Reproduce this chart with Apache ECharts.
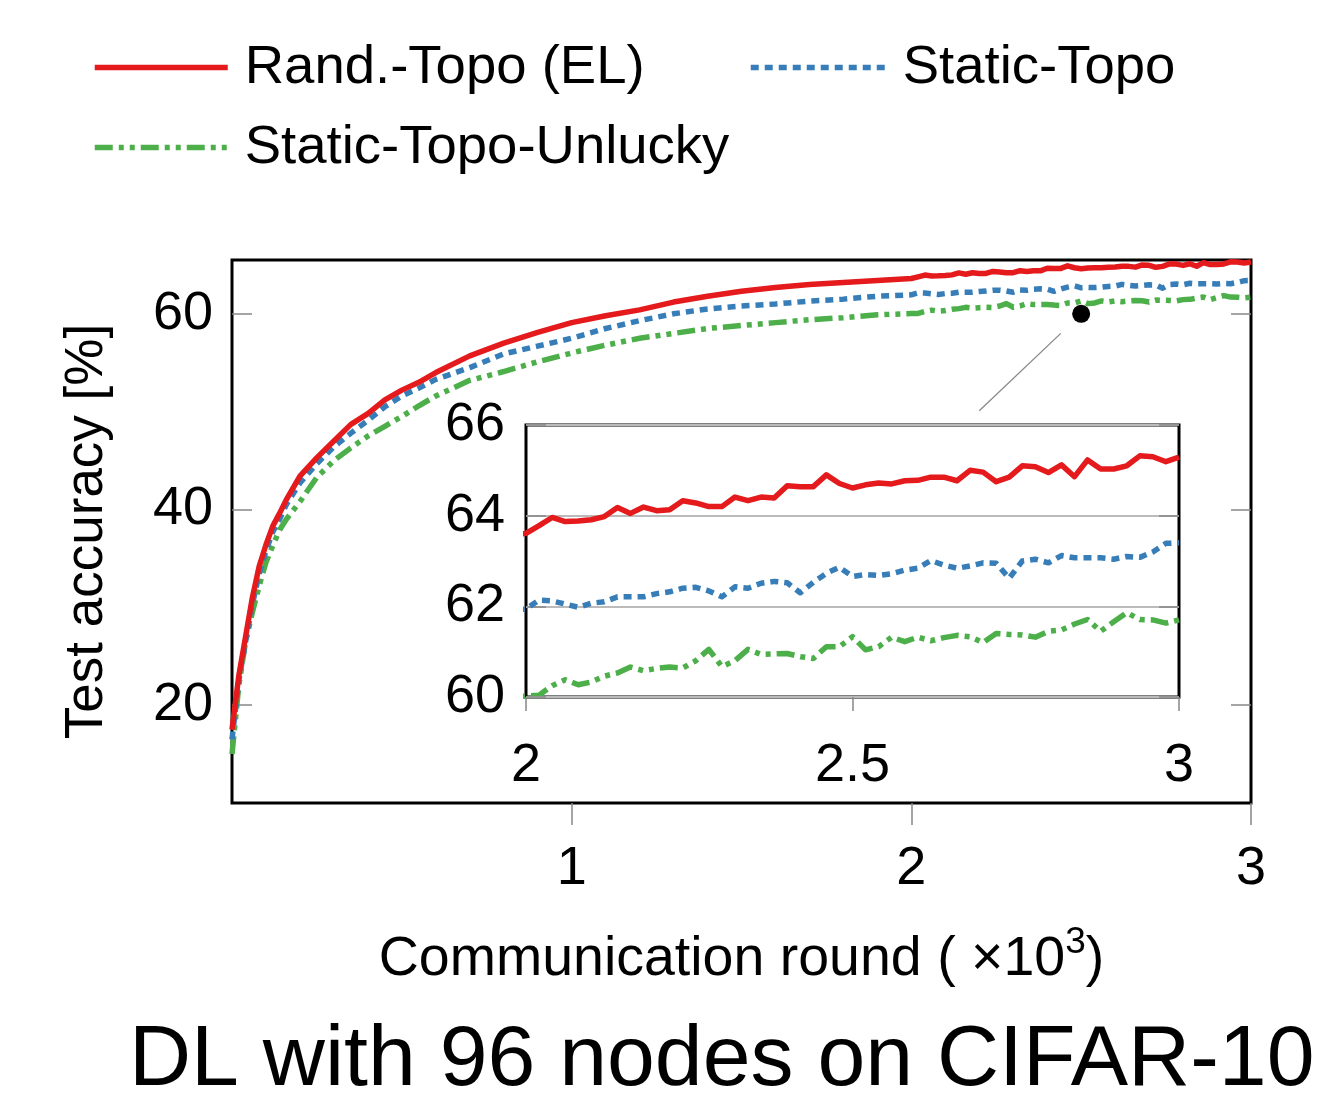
<!DOCTYPE html>
<html><head><meta charset="utf-8">
<script src="https://cdn.jsdelivr.net/npm/echarts@6/dist/echarts.min.js"></script>
<style>html,body{margin:0;padding:0;background:#fff}#c{width:1336px;height:1109px}</style>
</head><body><div id="c"></div>
<script>
// communication round (x10^3)
const rounds = [0, 0.02, 0.04, 0.06, 0.08, 0.10, 0.12, 0.14, 0.16, 0.20, 0.25, 0.30, 0.35, 0.40, 0.45, 0.50, 0.55, 0.60, 0.70, 0.80, 0.90, 1.00, 1.10, 1.20, 1.30, 1.40, 1.50, 1.60, 1.70, 1.80, 1.90,
  2.00, 2.02, 2.04, 2.06, 2.08, 2.10, 2.12, 2.14, 2.16, 2.18, 2.20, 2.22, 2.24, 2.26, 2.28, 2.30, 2.32, 2.34, 2.36, 2.38,
  2.40, 2.42, 2.44, 2.46, 2.48, 2.50, 2.52, 2.54, 2.56, 2.58, 2.60, 2.62, 2.64, 2.66, 2.68, 2.70, 2.72, 2.74, 2.76, 2.78,
  2.80, 2.82, 2.84, 2.86, 2.88, 2.90, 2.92, 2.94, 2.96, 2.98, 3.00];
const randTopo = [17.5, 23.0, 27.0, 31.0, 34.2, 36.4, 38.3, 39.6, 41.0, 43.4, 45.3, 47.0, 48.7, 49.8, 51.2, 52.2, 53.0, 54.0, 55.7, 57.0, 58.1, 59.1, 59.8, 60.4, 61.2, 61.8, 62.3, 62.7, 63.0, 63.2, 63.4,
  63.61, 63.78, 63.96, 63.87, 63.88, 63.91, 63.98, 64.18, 64.05, 64.19, 64.11, 64.13, 64.33, 64.28, 64.20, 64.20, 64.41, 64.33, 64.41, 64.39,
  64.66, 64.64, 64.64, 64.90, 64.71, 64.61, 64.68, 64.72, 64.70, 64.77, 64.78, 64.85, 64.85, 64.77, 65.00, 64.96, 64.75, 64.85, 65.10, 65.08,
  64.95, 65.12, 64.86, 65.23, 65.03, 65.03, 65.10, 65.32, 65.30, 65.19, 65.29];
const staticTopo = [16.5, 22.5, 26.5, 30.3, 33.4, 35.8, 37.7, 39.0, 40.5, 42.7, 44.7, 46.4, 47.8, 49.1, 50.5, 51.6, 52.4, 53.3, 54.5, 55.9, 56.7, 57.5, 58.5, 59.3, 60.0, 60.5, 60.8, 61.0, 61.3, 61.5, 61.8,
  61.94, 62.14, 62.12, 62.05, 61.98, 62.07, 62.10, 62.21, 62.21, 62.21, 62.28, 62.32, 62.40, 62.42, 62.34, 62.21, 62.43, 62.40, 62.51, 62.55,
  62.52, 62.30, 62.53, 62.73, 62.86, 62.66, 62.70, 62.68, 62.72, 62.80, 62.84, 63.01, 62.91, 62.84, 62.89, 62.96, 62.95, 62.62, 63.00, 63.04,
  62.96, 63.12, 63.07, 63.07, 63.07, 63.04, 63.10, 63.08, 63.20, 63.39, 63.40];
const staticUnlucky = [15.0, 22.0, 26.5, 29.5, 32.2, 34.6, 36.3, 37.9, 39.0, 40.8, 43.3, 45.0, 46.3, 47.5, 48.5, 49.5, 50.6, 51.6, 53.2, 54.1, 55.1, 56.0, 56.8, 57.5, 58.0, 58.5, 58.8, 59.1, 59.4, 59.6, 59.9,
  60.02, 60.04, 60.25, 60.38, 60.27, 60.33, 60.46, 60.53, 60.66, 60.58, 60.63, 60.66, 60.64, 60.80, 61.05, 60.67, 60.80, 61.05, 60.94, 60.95,
  60.96, 60.89, 60.85, 61.11, 61.11, 61.33, 61.04, 61.11, 61.32, 61.22, 61.32, 61.24, 61.31, 61.36, 61.33, 61.20, 61.40, 61.38, 61.37, 61.32,
  61.45, 61.48, 61.61, 61.71, 61.45, 61.66, 61.86, 61.71, 61.70, 61.63, 61.70];
const seriesNames = ['Rand.-Topo (EL)', 'Static-Topo', 'Static-Topo-Unlucky'];
const mainXTicks = [1, 2, 3];
const mainYTicks = [20, 40, 60];
const zoomPin = [2.5, 60];
const zoomConnector = [[2.44, 58.0], [2.2, 50.1]];

const FONT = 'Liberation Sans';
const colors = ['#e41a1c', '#377eb8', '#4daf4a'];
const dashes = ['solid', [8, 6], [18, 6, 5, 6, 5, 6]];
const values = [randTopo, staticTopo, staticUnlucky];
const pairs = v => rounds.map((x, i) => [x, v[i]]);

const series = [];
values.forEach((v, k) => {
  const ls = {color: colors[k], width: 5.5, type: dashes[k], cap: 'butt', join: 'round'};
  series.push({name: seriesNames[k], type: 'line', xAxisIndex: 0, yAxisIndex: 0, data: pairs(v),
    symbol: 'none', lineStyle: ls, itemStyle: {color: colors[k]}, z: 3 - k});
  series.push({name: seriesNames[k], type: 'line', xAxisIndex: 1, yAxisIndex: 2, data: pairs(v),
    symbol: 'none', lineStyle: ls, itemStyle: {color: colors[k]}, clip: true, z: 6 - k});
});
series.push({type: 'line', xAxisIndex: 0, yAxisIndex: 0, data: zoomConnector, symbol: 'none',
  lineStyle: {color: '#888', width: 1.3}, silent: true});
series.push({type: 'scatter', xAxisIndex: 0, yAxisIndex: 0, data: [zoomPin], symbol: 'circle',
  symbolSize: 18, itemStyle: {color: '#000', opacity: 1}, z: 10});

const legendText = {fontSize: 54.5, fontFamily: FONT, color: '#000', padding: [0, 0, 0, 12]};
const mkLegend = (k, left, top, w) => ({data: [seriesNames[k]], left, top, padding: 0, itemWidth: w, itemHeight: 10,
  textStyle: legendText, itemStyle: {opacity: 0},
  lineStyle: {width: 5.5, color: colors[k], type: dashes[k], cap: 'butt'}, selectedMode: false});

const lbl = {fontSize: 54, fontFamily: FONT, color: '#000'};
const tickStyle = {color: '#888', width: 1.5};

const option = {
  animation: false,
  backgroundColor: '#fff',
  title: {text: 'DL with 96 nodes on CIFAR-10', left: 124, top: 1013,
    textStyle: {fontSize: 86, fontWeight: 'normal', fontFamily: FONT, color: '#000'}},
  legend: [mkLegend(0, 92, 40, 133), mkLegend(1, 748, 40, 135), mkLegend(2, 92, 120, 133)],
  grid: [
    {left: 232, top: 260, width: 1019, height: 543, show: true, borderColor: '#000', borderWidth: 3, backgroundColor: 'transparent'},
    {left: 526, top: 425, width: 653, height: 272, show: true, borderColor: '#000', borderWidth: 3, backgroundColor: '#fff', z: 4}
  ],
  xAxis: [
    {type: 'value', gridIndex: 0, min: 0, max: 3,
      axisLine: {show: false}, splitLine: {show: false},
      axisTick: {show: true, inside: false, length: 22, lineStyle: tickStyle, customValues: mainXTicks},
      axisLabel: Object.assign({margin: 39, customValues: mainXTicks}, lbl),
      name: 'Communication round ( \u00d710{sup|3})', nameLocation: 'middle', nameGap: 121,
      nameTextStyle: {fontSize: 55.5, fontFamily: FONT, color: '#000',
        rich: {sup: {fontSize: 37, fontFamily: FONT, color: '#000', verticalAlign: 'top', padding: [0, 0, 35, 0]}}}},
    {type: 'value', gridIndex: 1, min: 2, max: 3, interval: 0.5, z: 5,
      axisLine: {show: false}, splitLine: {show: false},
      axisTick: {show: true, inside: false, length: 14, lineStyle: tickStyle},
      axisLabel: Object.assign({margin: 42}, lbl)}
  ],
  yAxis: [
    {type: 'value', gridIndex: 0, min: 10, max: 65.5,
      axisLine: {show: false}, splitLine: {show: false},
      axisTick: {show: true, inside: true, length: 20, lineStyle: tickStyle, customValues: mainYTicks},
      axisLabel: Object.assign({margin: 19, customValues: mainYTicks}, lbl),
      name: 'Test accuracy [%]', nameLocation: 'middle', nameGap: 118, nameRotate: 90,
      nameTextStyle: {fontSize: 53, fontFamily: FONT, color: '#000'}},
    {type: 'value', gridIndex: 0, position: 'right', min: 10, max: 65.5,
      axisLine: {show: false}, splitLine: {show: false}, axisLabel: {show: false},
      axisTick: {show: true, inside: true, length: 20, lineStyle: tickStyle, customValues: mainYTicks}},
    {type: 'value', gridIndex: 1, min: 60, max: 66, interval: 2, z: 5,
      axisLine: {show: false}, splitLine: {show: true, lineStyle: {color: '#bbb', width: 2}},
      axisTick: {show: true, inside: true, length: 20, lineStyle: tickStyle},
      axisLabel: Object.assign({margin: 21}, lbl)},
    {type: 'value', gridIndex: 1, position: 'right', min: 60, max: 66, interval: 2, z: 5,
      axisLine: {show: false}, splitLine: {show: false}, axisLabel: {show: false},
      axisTick: {show: true, inside: true, length: 20, lineStyle: tickStyle}}
  ],
  series
};
const chart = echarts.init(document.getElementById('c'), null, {renderer: 'canvas'});
chart.setOption(option);
</script></body></html>
